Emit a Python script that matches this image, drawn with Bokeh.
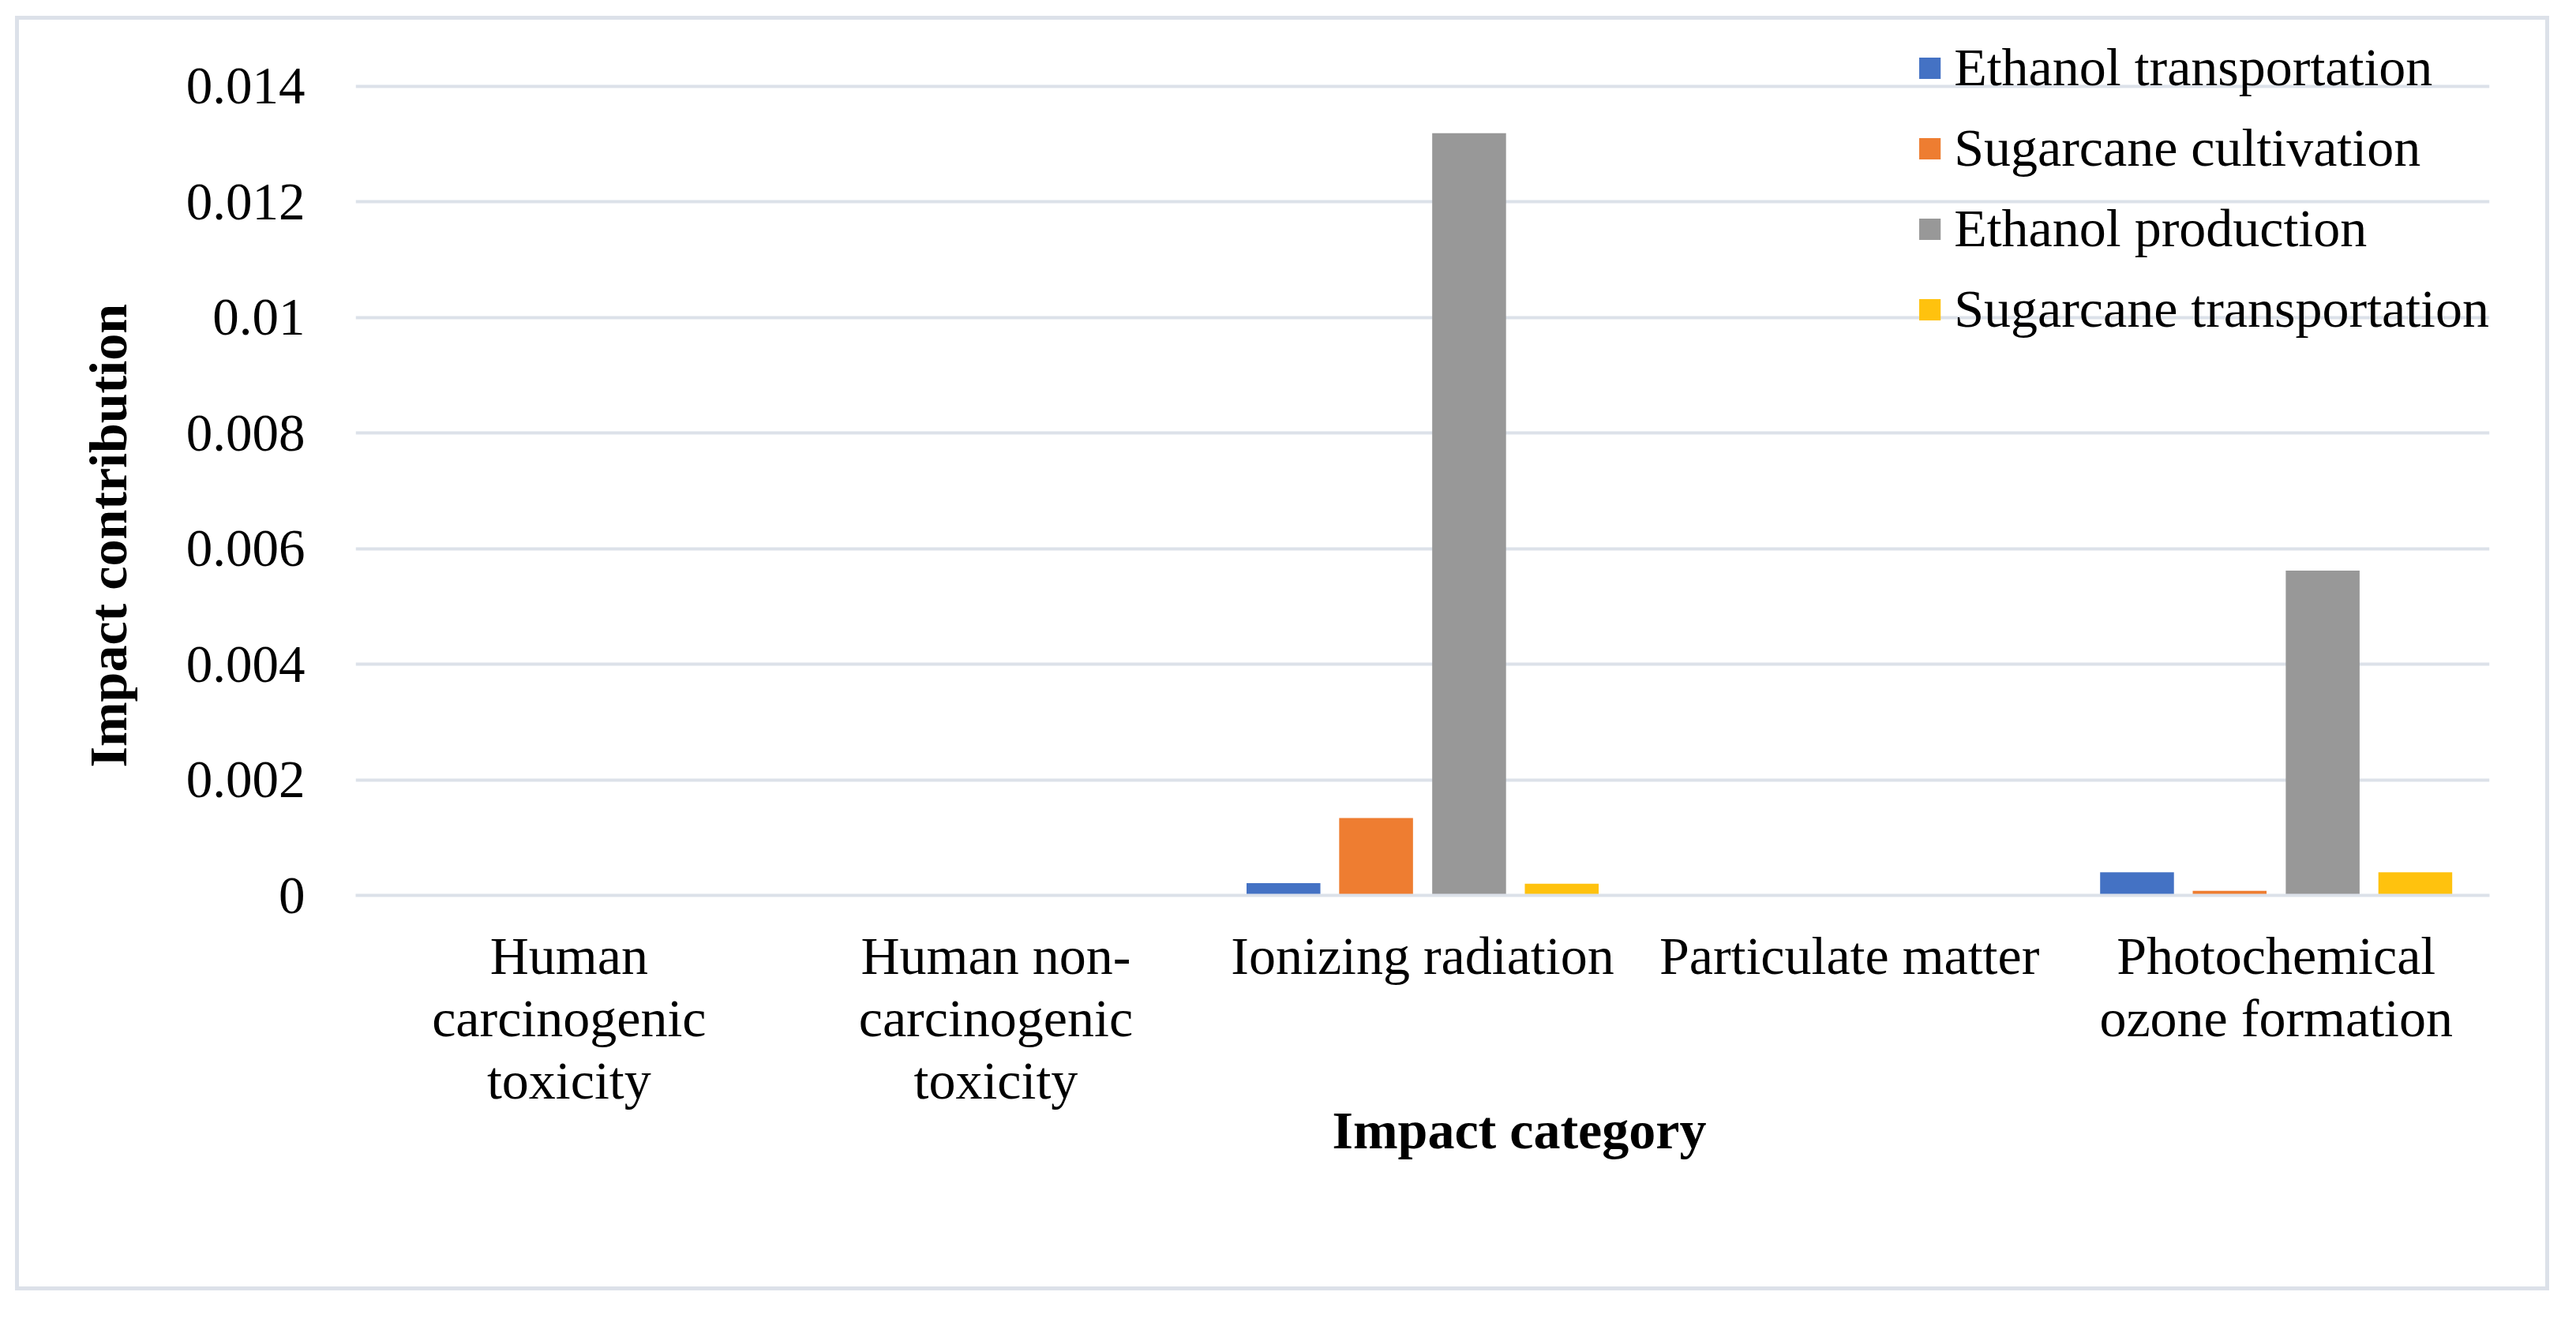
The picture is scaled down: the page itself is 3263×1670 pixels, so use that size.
from bokeh.plotting import figure
from bokeh.models import Range1d, FactorRange, FixedTicker, CustomJSTickFormatter, ColumnDataSource, Title
from bokeh.transform import dodge
from bokeh.embed import file_html
from bokeh.resources import INLINE

categories = ["Human\ncarcinogenic\ntoxicity", "Human non-\ncarcinogenic\ntoxicity",
              "Ionizing radiation", "Particulate matter", "Photochemical\nozone formation"]
series_names = ["Ethanol transportation", "Sugarcane cultivation",
                "Ethanol production", "Sugarcane transportation"]
ethanol_transportation = [0, 0, 0.00021, 0, 0.00040]
sugarcane_cultivation = [0, 0, 0.00134, 0, 0.00008]
ethanol_production = [0, 0, 0.01319, 0, 0.00562]
sugarcane_transportation = [0, 0, 0.00020, 0, 0.00040]
y_ticks = [0, 0.002, 0.004, 0.006, 0.008, 0.010, 0.012, 0.014]
y_max = 0.01486

colors = ["#4472C4", "#EE7D31", "#989898", "#FFC20E"]
offsets = [-0.326, -0.109, 0.109, 0.326]
GRID = "#DCE1E9"
FONT = "Liberation Serif"

source = ColumnDataSource(dict(cat=categories, s0=ethanol_transportation, s1=sugarcane_cultivation,
                               s2=ethanol_production, s3=sugarcane_transportation))

p = figure(x_range=FactorRange(factors=categories), y_range=Range1d(0, y_max),
           width=3210, height=1615, output_backend="svg", toolbar_location=None,
           min_border_left=426, min_border_right=81, min_border_top=21, min_border_bottom=506,
           margin=(20, 0, 0, 19), styles={"border": "5px solid #DCE1E9", "box-sizing": "border-box"},
           background_fill_color="white", border_fill_color="white", outline_line_color=None)

for i, (name, col) in enumerate(zip(series_names, colors)):
    p.vbar(x=dodge("cat", offsets[i], range=p.x_range), top="s%d" % i, width=0.173, source=source,
           fill_color=col, line_color=None, legend_label=name)

p.xaxis.axis_line_color = GRID
p.xaxis.axis_line_width = 4
p.xaxis.major_tick_line_color = None
p.xaxis.minor_tick_line_color = None
p.xaxis.major_label_text_font = FONT
p.xaxis.major_label_text_font_size = "68px"
p.xaxis.major_label_text_color = "black"
p.xaxis.major_label_text_line_height = 1.04
p.xaxis.major_label_standoff = 32

p.yaxis.axis_line_color = None
p.yaxis.major_tick_line_color = None
p.yaxis.minor_tick_line_color = None
p.yaxis.ticker = FixedTicker(ticks=y_ticks)
p.yaxis.formatter = CustomJSTickFormatter(code="return tick === 0 ? '0' : parseFloat(tick.toFixed(4)).toString();")
p.yaxis.major_label_text_font = FONT
p.yaxis.major_label_text_font_size = "67px"
p.yaxis.major_label_text_color = "black"
p.yaxis.major_label_standoff = 58

p.ygrid.grid_line_color = GRID
p.ygrid.grid_line_width = 4
p.xgrid.grid_line_color = None

p.add_layout(Title(text="Impact contribution", align="left", offset=162, text_font=FONT,
                   text_font_size="68px", text_font_style="bold", text_color="black", standoff=115), "left")
p.add_layout(Title(text="Impact category", align="left", offset=1237, vertical_align="top", text_font=FONT,
                   text_font_size="68px", text_font_style="bold", text_color="black", standoff=-32), "below")

lg = p.legend[0]
lg.location = "top_right"
lg.margin = 0
lg.padding = 0
lg.spacing = 23
lg.label_height = 76
lg.glyph_height = 34
lg.glyph_width = 34
lg.label_standoff = 14
lg.label_text_font = FONT
lg.label_text_font_size = "68px"
lg.label_text_color = "black"
lg.background_fill_alpha = 0
lg.border_line_color = None

open("out.html", "w").write(file_html(p, INLINE))
